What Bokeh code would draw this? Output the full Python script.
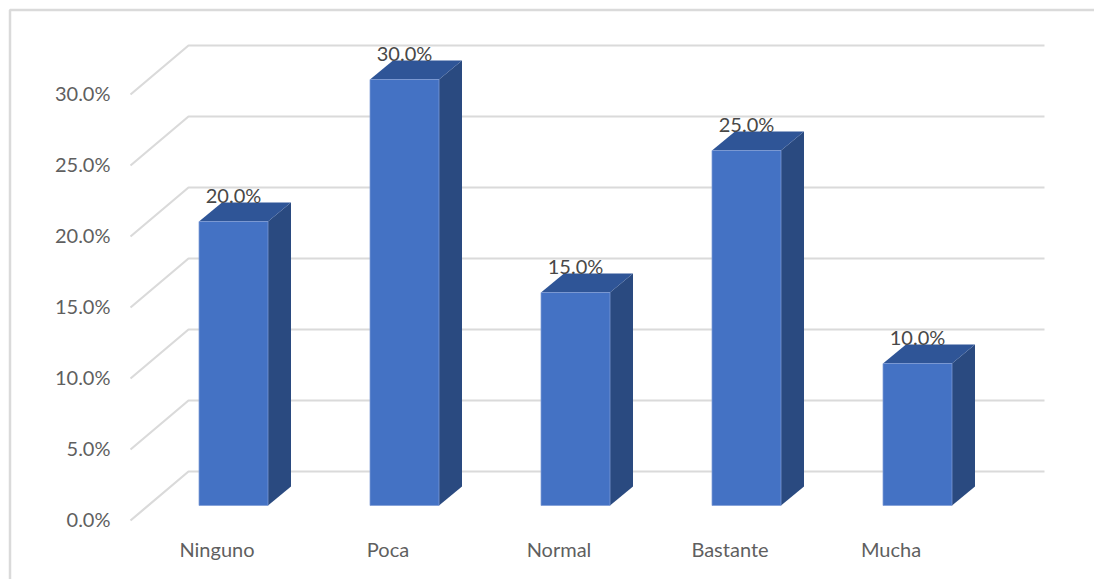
from bokeh.embed import file_html
from bokeh.resources import INLINE
from bokeh.plotting import figure
from bokeh.models import ColumnDataSource
from bokeh.core.properties import value

# Survey answers and their shares in percent
categories = ["Ninguno", "Poca", "Normal", "Bastante", "Mucha"]
shares = [20.0, 30.0, 15.0, 25.0, 10.0]
ticks = [0.0, 5.0, 10.0, 15.0, 20.0, 25.0, 30.0]
category_label_shift = [-17, -17, -17, -17, -27]

WIDTH, HEIGHT = 1094, 579
PX_PER_CAT = 171.0
PX_PER_PCT = 14.2
ORIGIN_X, ORIGIN_Y = 233.5, 505.0


def sx(px):
    return px / PX_PER_CAT


def sy(px):
    return px / PX_PER_PCT


p = figure(
    width=WIDTH, height=HEIGHT, output_backend="svg", toolbar_location=None,
    x_range=(-ORIGIN_X / PX_PER_CAT, (WIDTH - ORIGIN_X) / PX_PER_CAT),
    y_range=(-(HEIGHT - ORIGIN_Y) / PX_PER_PCT, ORIGIN_Y / PX_PER_PCT),
    min_border=0, outline_line_color=None, background_fill_color="white",
)
p.axis.visible = False
p.grid.visible = False

FONT = value("Lato")
GRID = "#dadada"
TEXT = "#5f5f5f"
SIZE = "20px"

# Outer chart frame
p.line([sx(9.5 - ORIGIN_X), sx(9.5 - ORIGIN_X), sx(WIDTH - ORIGIN_X)],
       [sy(ORIGIN_Y - HEIGHT), sy(ORIGIN_Y - 9.5), sy(ORIGIN_Y - 9.5)],
       line_color=GRID, line_width=2.5)

# Back wall and side wall gridlines of the 3D box
wall_left = sx(188 - ORIGIN_X)
wall_right = sx(1044 - ORIGIN_X)
side_left = sx(130 - ORIGIN_X)
back_dy = sy(505 - 471)
side_dy = sy(520 - 505)
for t in ticks:
    p.line([side_left, wall_left, wall_right],
           [t - side_dy, t + back_dy, t + back_dy],
           line_color=GRID, line_width=2.2)

# Bars: side face, top face, front face
half = sx(34.5)
shift = sx(-0.5)
dx = sx(23)
dy = sy(19)
for i, v in enumerate(shares):
    l, r = i - half + shift, i + half + shift
    p.patch([r, r + dx, r + dx, r], [0, dy, v + dy, v], fill_color="#2a4a80", line_color=None)
    p.patch([l, r, r + dx, l + dx], [v, v, v + dy, v + dy], fill_color="#2f5597", line_color=None)
    p.quad(left=[l], right=[r], bottom=[0], top=[v], fill_color="#4472c4",
           line_color="#7f9cd6", line_width=0.75)

# Value labels above each bar
value_src = ColumnDataSource(dict(
    x=[i + shift for i in range(len(shares))], y=[v + sy(27) for v in shares],
    t=[f"{v:.1f}%" for v in shares]))
p.text("x", "y", "t", source=value_src, text_font=FONT, text_font_size=SIZE,
       text_color="#484848", text_align="center", text_baseline="middle")

# Vertical axis labels
tick_src = ColumnDataSource(dict(
    x=[sx(110 - ORIGIN_X)] * len(ticks), y=[t + sy(505 - 518) for t in ticks],
    t=[f"{t:.1f}%" for t in ticks]))
p.text("x", "y", "t", source=tick_src, text_font=FONT, text_font_size=SIZE,
       text_color=TEXT, text_align="right", text_baseline="middle")

# Category labels under the floor
cat_src = ColumnDataSource(dict(
    x=[i + sx(s) for i, s in enumerate(category_label_shift)],
    y=[sy(505 - 548)] * len(categories), t=categories))
p.text("x", "y", "t", source=cat_src, text_font=FONT, text_font_size=SIZE,
       text_color=TEXT, text_align="center", text_baseline="middle")

open("out.html", "w").write(file_html(p, INLINE))
